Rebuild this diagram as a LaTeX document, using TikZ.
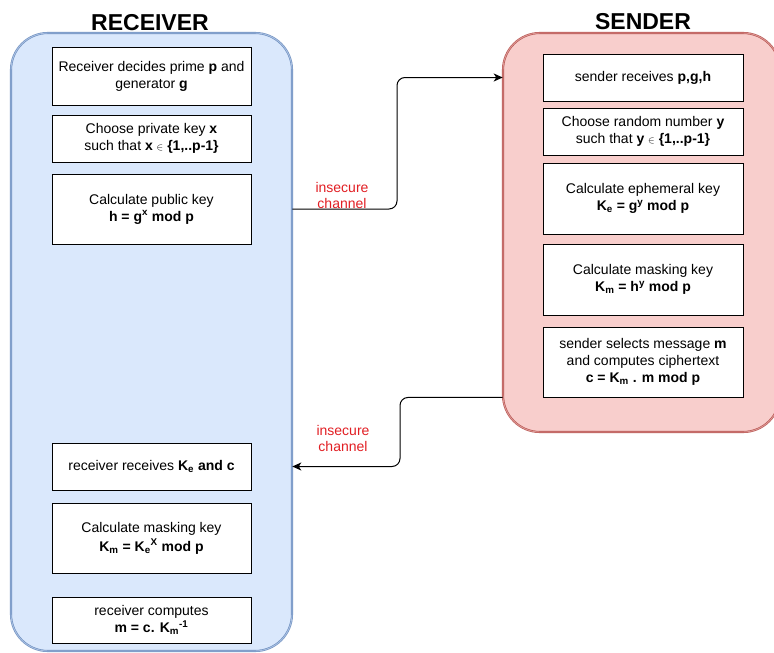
\documentclass[tikz,border=0pt]{standalone}
\usepackage{fontspec}
\setmainfont{Liberation Sans}
\usetikzlibrary{arrows.meta}

\definecolor{recvfill}{HTML}{DAE8FC}
\definecolor{recvline}{HTML}{6C8EBF}
\definecolor{sendfill}{HTML}{F8CECC}
\definecolor{sendline}{HTML}{B85450}
\definecolor{chanred}{RGB}{225,30,35}

\tikzset{
  lane/.style={rounded corners=37pt, line width=0.6pt, double distance=0.9pt},
  recvlane/.style={lane, draw=recvline, double=recvline!45!recvfill, fill=recvfill},
  sendlane/.style={lane, draw=sendline, double=sendline!45!sendfill, fill=sendfill},
  title/.style={font=\fontsize{23}{26}\selectfont\bfseries},
  stepbox/.style={draw=black, fill=white, line width=0.9pt, align=center,
    font=\fontsize{14}{17}\selectfont, inner sep=2pt},
  chanlabel/.style={text=chanred, align=center, font=\fontsize{14}{16}\selectfont},
  conn/.style={draw=black, line width=1pt, rounded corners=8pt,
    -{Stealth[length=9pt,width=8pt,inset=2.5pt]}},
}

\newcommand{\elem}{\ensuremath{\scriptstyle\in}}

\begin{document}
\begin{tikzpicture}[x=1pt,y=-1pt]
  \useasboundingbox (0,0) rectangle (774,653);

  % swimlanes
  \node[recvlane, minimum width=281pt, minimum height=618pt] (recv) at (151.5,342) {};
  \node[sendlane, minimum width=277pt, minimum height=399pt] (send) at (641.5,232.5) {};

  \node[title] (recvtitle) at (150,23) {RECEIVER};
  \node[title] (sendtitle) at (643,22) {SENDER};

  % receiver steps
  \node[stepbox, minimum width=199pt, minimum height=58pt] (rb1) at (151.5,76)
    {Receiver decides prime \textbf{p} and\\generator \textbf{g}};
  \node[stepbox, minimum width=199pt, minimum height=47pt] (rb2) at (151.5,138.5)
    {Choose private key \textbf{x}\\such that \textbf{x} \elem\ \textbf{\{1,..p-1\}}};
  \node[stepbox, minimum width=199pt, minimum height=70pt] (rb3) at (151.5,209)
    {Calculate public key\\\textbf{h = g\textsuperscript{x} mod p}};
  \node[stepbox, minimum width=199pt, minimum height=47pt] (rb4) at (151.5,466.5)
    {receiver receives \textbf{K\textsubscript{e} and c}};
  \node[stepbox, minimum width=199pt, minimum height=70pt] (rb5) at (151.5,538)
    {Calculate masking key\\[2pt]\textbf{K\textsubscript{m} = K\textsubscript{e}\textsuperscript{X} mod p}};
  \node[stepbox, minimum width=199pt, minimum height=46pt] (rb6) at (151.5,620)
    {receiver computes\\\textbf{m = c. K\textsubscript{m}\textsuperscript{-1}}};

  % sender steps
  \node[stepbox, minimum width=200pt, minimum height=47pt] (sb1) at (643,77.5)
    {sender receives \textbf{p,g,h}};
  \node[stepbox, minimum width=200pt, minimum height=47pt] (sb2) at (643,131.5)
    {Choose random number \textbf{y}\\such that \textbf{y} \elem\ \textbf{\{1,..p-1\}}};
  \node[stepbox, minimum width=200pt, minimum height=71pt] (sb3) at (643,198.5)
    {Calculate ephemeral key\\\textbf{K\textsubscript{e} = g\textsuperscript{y} mod p}};
  \node[stepbox, minimum width=200pt, minimum height=71pt] (sb4) at (643,279.5)
    {Calculate masking key\\\textbf{K\textsubscript{m} = h\textsuperscript{y} mod p}};
  \node[stepbox, minimum width=200pt, minimum height=70pt] (sb5) at (643,362)
    {sender selects message \textbf{m}\\and computes ciphertext\\\textbf{c = K\textsubscript{m} . m mod p}};

  % channel bends
  \coordinate (up) at (397,0);
  \coordinate (down) at (400,0);

  % public parameters travel to the sender
  \draw[conn] (recv.east |- rb3) -- (up |- rb3) -- (up |- sb1) -- (send.west |- sb1);
  \node[chanlabel] (chan1) at (342,195) {insecure\\channel};

  % ciphertext travels back to the receiver
  \draw[conn] (send.west |- sb5.south) -- (down |- sb5.south) -- (down |- rb4) -- (recv.east |- rb4);
  \node[chanlabel] (chan2) at (343,438) {insecure\\channel};
\end{tikzpicture}
\end{document}
